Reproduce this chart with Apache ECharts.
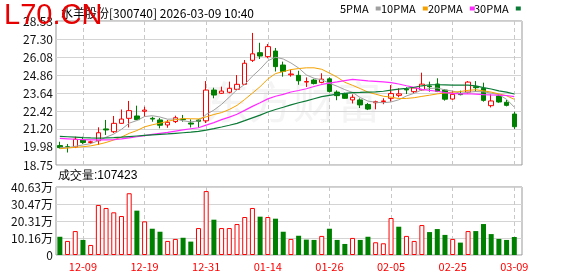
<!DOCTYPE html>
<html><head><meta charset="utf-8">
<script src="https://cdn.jsdelivr.net/npm/echarts@6/dist/echarts.min.js"></script>
<style>html,body{margin:0;padding:0;background:#fff}#c{width:578px;height:276px}</style>
</head><body><div id="c"></div>
<script>
const dates = ['12-04','12-05','12-08','12-09','12-10','12-11','12-12','12-15','12-16','12-17','12-18','12-19','12-22','12-23','12-24','12-25','12-26','12-29','12-30','12-31',
'01-05','01-06','01-07','01-08','01-09','01-12','01-13','01-14','01-15','01-16','01-19','01-20','01-21','01-22','01-23','01-26','01-27','01-28','01-29','01-30',
'02-02','02-03','02-04','02-05','02-06','02-09','02-10','02-11','02-12','02-13','02-24','02-25','02-26','02-27','03-02','03-03','03-04','03-05','03-06','03-09'];
const open = [20.07,19.99,19.97,20.45,20.28,20.40,21.20,21.01,21.58,21.92, 22.08,22.40,21.92,21.81,21.47,21.70,21.87,21.60,21.80,21.75, 23.84,23.62,23.69,23.89,24.23,25.86,26.38,26.11,26.49,25.54, 24.88,24.84,24.38,24.52,24.36,24.60,23.70,23.60,23.17,23.17, 22.86,22.98,23.06,23.28,23.48,23.90,23.73,23.85,24.12,24.25, 23.84,23.23,23.60,23.70,24.07,23.96,22.78,23.44,23.01,22.21];
const close = [19.93,19.95,20.50,20.28,20.33,20.94,21.13,21.58,21.87,22.44, 21.83,22.48,21.87,21.45,21.65,21.96,21.83,21.53,21.72,23.84, 23.50,23.77,23.96,24.23,25.66,26.30,26.15,26.79,25.43,25.10, 24.93,24.47,24.42,24.28,24.58,23.75,23.46,23.28,23.35,22.83, 22.55,23.05,23.10,23.60,23.58,23.85,23.98,24.24,24.07,23.75, 23.22,23.55,23.53,24.38,24.00,23.14,23.10,23.03,22.80,21.35];
const low = [19.87,19.60,19.90,20.18,20.18,20.11,20.79,20.92,21.55,21.30, 21.81,22.03,21.69,21.24,21.28,21.60,21.69,21.30,21.28,21.60, 23.28,23.57,23.62,23.84,24.18,25.75,25.95,26.00,25.10,24.75, 24.75,24.20,24.05,24.22,24.30,23.68,23.15,23.25,22.93,22.62, 22.48,22.53,22.88,23.05,23.35,23.57,23.62,23.80,23.73,23.70, 23.12,23.18,23.48,23.60,23.73,23.05,22.66,22.98,22.73,21.20];
const high = [20.33,20.18,20.67,20.67,20.40,21.31,21.81,22.08,22.52,23.10, 22.78,22.71,22.03,21.94,21.81,22.10,22.15,21.85,21.85,24.45, 24.00,24.07,24.41,24.86,25.88,27.72,27.05,26.97,26.70,25.77, 25.22,25.15,24.70,24.60,24.98,24.70,23.82,23.66,23.55,23.28, 22.96,23.12,23.28,24.18,23.96,24.03,24.05,25.02,24.41,24.64, 23.91,23.80,23.80,24.45,24.45,24.34,23.55,23.55,23.17,22.37];
const ma5 = [19.95,19.93,20.02,20.11,20.20,20.40,20.64,20.85,21.17,21.59, 21.77,22.04,22.10,22.01,21.86,21.88,21.75,21.68,21.74,22.18, 22.48,22.87,23.36,23.86,24.22,24.78,25.26,25.83,26.07,25.95, 25.68,25.34,24.87,24.64,24.54,24.30,24.10,23.87,23.68,23.33, 23.09,23.01,22.98,23.03,23.18,23.44,23.62,23.85,23.94,23.98, 23.85,23.77,23.62,23.69,23.74,23.72,23.63,23.53,23.21,22.68];
const ma10 = [19.86,19.90,19.95,19.99,20.05,20.15,20.28,20.45,20.65,20.90, 21.09,21.34,21.48,21.59,21.72,21.83,21.90,21.89,21.88,22.02, 22.18,22.31,22.52,22.80,23.20,23.63,24.07,24.59,24.96,25.09, 25.23,25.30,25.35,25.35,25.25,24.99,24.72,24.37,24.16,23.94, 23.70,23.56,23.42,23.36,23.26,23.27,23.32,23.41,23.49,23.58, 23.64,23.69,23.74,23.82,23.86,23.79,23.70,23.58,23.45,23.21];
const ma20 = [20.56,20.53,20.50,20.48,20.46,20.45,20.45,20.47,20.52,20.59, 20.67,20.75,20.83,20.90,20.97,21.05,21.13,21.21,21.28,21.46, 21.63,21.83,22.00,22.20,22.46,22.73,22.98,23.24,23.42,23.55, 23.71,23.81,23.93,24.08,24.22,24.31,24.39,24.48,24.56,24.51, 24.46,24.43,24.39,24.35,24.25,24.13,24.02,23.89,23.82,23.76, 23.67,23.62,23.58,23.59,23.56,23.53,23.51,23.50,23.47,23.39];
const ma30 = [20.70,20.67,20.64,20.61,20.59,20.58,20.59,20.61,20.64,20.68, 20.72,20.76,20.80,20.83,20.86,20.90,20.94,20.98,21.03,21.12, 21.22,21.33,21.45,21.58,21.76,21.95,22.14,22.35,22.52,22.67, 22.83,22.98,23.11,23.25,23.39,23.48,23.56,23.62,23.67,23.68, 23.70,23.72,23.76,23.84,23.90,23.96,24.03,24.13,24.20,24.20, 24.19,24.18,24.17,24.17,24.12,24.01,23.91,23.79,23.70,23.57];
const volume = [109000,84000,143000,90000,60000,299000,281000,255000,233000,369000, 265000,201000,157000,139000,84000,96000,103000,80000,161000,382000, 211000,161000,161000,185000,227000,281000,229000,227000,217000,139000, 96000,115000,92000,90000,114000,157000,90000,66000,102000,90000, 109000,76000,70000,221000,169000,114000,84000,179000,137000,155000, 120000,96000,74000,143000,143000,185000,125000,96000,90000,107423];
const volUp = [0,1,1,0,1,1,1,1,1,1, 0,1,0,0,1,1,0,0,1,1, 0,1,1,1,1,1,0,1,0,0, 1,0,0,0,1,0,0,0,1,0, 0,1,1,1,0,1,1,1,0,0, 0,1,0,1,0,0,0,0,0,0];
const xTickIdx = [3,11,19,27,35,43,51,59];
const yTicks = [18.75,19.98,21.20,22.42,23.64,24.86,26.08,27.30,28.53];
const yTickLabels = ['18.75','19.98','21.20','22.42','23.64','24.86','26.08','27.30','28.53'];
const volTicks = [0,101575,203150,304725,406300];
const volTickLabels = ['0','10.16万','20.31万','30.47万','40.63万'];
const maNames = ['5PMA','10PMA','20PMA','30PMA'];
const maColors = ['#a0a0a0','#f5a200','#ff2cff','#0b7a36'];
const maWidths = [1,1,1.2,1.2];
const maData = [ma5, ma10, ma20, ma30];
const titleText = '水羊股份[300740] 2026-03-09 10:40';
const volTitle = '成交量:107423';

const FONT = '"Noto Sans CJK SC","Noto Sans",sans-serif';
const chart = echarts.init(document.getElementById('c'), null, {renderer:'canvas'});
const idx = dates.map((d,i)=>i);

function xAxisCfg(gridIndex, showLabel){
  return {
    type:'value', gridIndex, min:-0.5, max:60,
    axisLine:{show:false},
    axisTick:{show:false, customValues:xTickIdx},
    axisLabel:{show:showLabel, customValues:xTickIdx, color:'#ff0000', fontSize:11, fontFamily:FONT, margin:6,
      formatter:v=>dates[Math.round(v)]},
    splitLine:{show:true, lineStyle:{color:'#c8c8c8', type:[4,3], width:1}}
  };
}

const option = {
  animation:false,
  backgroundColor:'#fff',
  title:{text:titleText, left:56, top:2, textStyle:{fontSize:12, fontWeight:'normal', color:'#000', fontFamily:FONT}},
  legend: maNames.map((n,k)=>({
    data:[n], left:[340,381,428,474][k], top:3, icon:'rect', itemWidth:5, itemHeight:4, itemGap:0, align:'right',
    textStyle:{fontSize:11, color:'#000', fontFamily:FONT, padding:[0,2,0,0]}, padding:0
  })),
  grid:[
    {left:56, top:21, width:466, height:144, show:true, borderColor:'#999', borderWidth:1, backgroundColor:'transparent'},
    {left:56, top:187, width:466, height:68, show:true, borderColor:'#999', borderWidth:1, backgroundColor:'transparent'}
  ],
  xAxis:[xAxisCfg(0,false), xAxisCfg(1,true)],
  yAxis:[
    {type:'value', gridIndex:0, min:18.75, max:28.53, position:'left',
     axisLine:{show:false}, axisTick:{show:false, customValues:yTicks},
     axisLabel:{customValues:yTicks, fontSize:12, color:'#111', fontFamily:FONT, margin:3,
       formatter:v=>yTickLabels[yTicks.indexOf(v)]},
     splitLine:{show:true, lineStyle:{color:'#d4d4d4', width:1}}},
    {type:'value', gridIndex:1, min:0, max:406300, position:'left',
     axisLine:{show:false}, axisTick:{show:false, customValues:volTicks},
     axisLabel:{customValues:volTicks, fontSize:12, color:'#111', fontFamily:FONT, margin:3,
       formatter:v=>volTickLabels[volTicks.indexOf(v)]},
     splitLine:{show:true, lineStyle:{color:'#d4d4d4', width:1}}}
  ],
  graphic:[
    {type:'text', left:58, top:170, z:10, style:{text:volTitle, fontSize:12, fill:'#000', font:'12px '+FONT}},
    {type:'text', left:205, top:80, z:-1, silent:true, style:{text:'东方财富', font:'44px '+FONT, fill:'#f4f4f4'}},
    {type:'text', left:4, top:1, z:100, style:{text:'L70.CN', font:'29px "Liberation Sans",Arial,sans-serif', fill:'#e60000'}}
  ],
  series:[
    {type:'candlestick', name:'K', xAxisIndex:0, yAxisIndex:0, barWidth:5,
     encode:{x:0, y:[1,2,3,4]},
     itemStyle:{color:'#ffffff', color0:'#008000', borderColor:'#ff0000', borderColor0:'#008000', borderWidth:1},
     data: idx.map(i=>[i, open[i], close[i], low[i], high[i]])},
    ...maNames.map((n,k)=>({
      type:'line', name:n, xAxisIndex:0, yAxisIndex:0, showSymbol:false, symbol:'none', z:3,
      itemStyle:{color:maColors[k]},
      lineStyle:{color:maColors[k], width:maWidths[k]},
      data: idx.map(i=>[i, maData[k][i]])
    })),
    {type:'bar', name:'VOL', xAxisIndex:1, yAxisIndex:1, barWidth:5,
     data: idx.map(i=>({value:[i, volume[i]],
       itemStyle: volUp[i] ? {color:'#ffffff', borderColor:'#ff0000', borderWidth:1} : {color:'#008000', borderColor:'#008000', borderWidth:0}}))}
  ]
};
chart.setOption(option);
</script>
</body></html>
